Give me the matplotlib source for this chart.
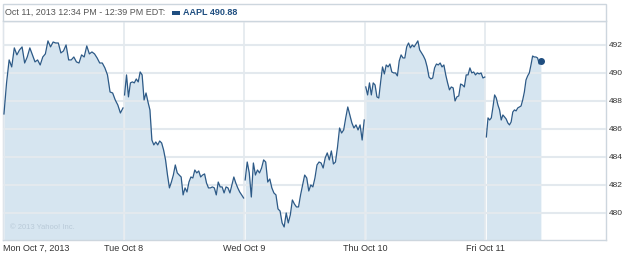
import numpy as np
import matplotlib.pyplot as plt
from matplotlib.patches import Rectangle

plt.rcParams['font.family'] = ['Liberation Sans', 'DejaVu Sans']

# AAPL intraday prices, one list per trading day (5-min-ish samples)
day_labels = ['Mon Oct 7, 2013', 'Tue Oct 8', 'Wed Oct 9', 'Thu Oct 10', 'Fri Oct 11']

mon = [487.07, 489.29, 490.93, 490.43, 491.79, 491.29, 491.64, 491.86, 490.71, 491.14,
       491.79, 491.29, 490.79, 490.93, 490.57, 491.14, 491.36, 492.29, 491.86, 492.21,
       492.14, 492.14, 491.43, 491.57, 492.0, 490.93, 490.93, 491.14, 490.79, 490.71,
       491.29, 491.14, 491.93, 491.36, 491.5, 491.36, 491.07, 490.71, 490.71, 490.36,
       489.86, 488.64, 488.57, 488.07, 487.71, 487.14, 487.5]
tue = [488.43, 489.86, 488.29, 489.29, 489.36, 489.29, 489.57, 489.36, 490.07, 489.86,
       488.07, 488.57, 487.93, 487.36, 485.21, 484.86, 485.07, 484.86, 485.14, 485.0,
       484.5, 483.79, 482.71, 481.79, 482.21, 482.71, 483.43, 482.86, 482.71, 482.57,
       481.29, 481.79, 481.5, 482.21, 482.57, 482.5, 483.07, 482.86, 483.0, 482.57,
       482.71, 482.79, 482.14, 481.79, 481.79, 481.86, 481.79, 481.29, 482.21, 481.86,
       481.86, 481.43, 481.86, 481.79, 481.43, 482.0, 482.57, 482.14, 481.79, 481.5,
       481.29, 481.07]
wed = [482.36, 483.64, 482.86, 481.14, 483.57, 482.71, 483.07, 482.86, 483.21, 483.79,
       483.64, 482.21, 482.43, 481.79, 481.43, 481.29, 480.29, 480.14, 479.29, 479.0,
       480.0, 479.29, 479.86, 480.93, 480.64, 480.43, 480.43, 481.29, 482.0, 482.71,
       482.5, 481.57, 482.0, 481.86, 482.5, 483.43, 483.64, 483.57, 483.21, 483.93,
       484.29, 483.79, 484.43, 483.5, 483.64, 484.71, 486.07, 485.71, 485.93, 486.79,
       487.57, 487.0, 486.43, 486.07, 486.29, 485.93, 486.29, 485.21, 486.64]
thu = [489.0, 488.43, 489.29, 488.43, 489.29, 489.14, 488.29, 488.21, 489.36, 490.43,
       489.93, 490.57, 490.43, 490.64, 490.07, 490.0, 490.0, 489.79, 490.86, 491.29,
       491.07, 491.07, 491.86, 492.14, 491.79, 492.0, 491.86, 492.07, 492.29, 491.64,
       491.43, 491.21, 490.93, 490.43, 489.71, 489.57, 489.64, 490.36, 490.64, 490.57,
       490.71, 490.43, 490.57, 489.86, 489.29, 488.79, 489.0, 488.93, 488.0, 488.29,
       488.36, 489.21, 489.14, 489.0, 489.86, 489.86, 490.36, 490.0, 490.07, 489.86,
       490.0, 489.93, 490.0, 489.64, 489.71]
fri = [485.43, 486.79, 486.64, 486.79, 487.57, 488.43, 488.21, 487.71, 487.36, 486.64,
       487.0, 486.86, 486.71, 486.43, 486.29, 486.5, 487.21, 487.36, 487.29, 487.5,
       487.57, 487.64, 488.07, 488.64, 489.5, 489.79, 490.0, 490.57, 491.21, 491.14,
       491.14, 491.07, 490.64, 490.88]
fri_end = 0.46  # fraction of Friday session shown (up to 12:39 PM)

y_ticks = [480, 482, 484, 486, 488, 490, 492]
y_min, y_max = 478.07, 493.71

header = 'Oct 11, 2013 12:34 PM - 12:39 PM EDT:'
quote = 'AAPL 490.88'

line_c = '#2d5a87'
fill_c = '#d6e5f0'
grid_c = '#e3e9ee'

W, H = 625, 254
fig = plt.figure(figsize=(W / 100, H / 100), dpi=100)
ax = fig.add_axes([3 / W, 14 / H, 603 / W, 219 / H])

days = [mon, tue, wed, thu, fri]
for i, p in enumerate(days):
    end = fri_end if i == 4 else 0.995
    xs = i + np.linspace(0.008, end, len(p))
    ax.fill_between(xs, p, y_min, color=fill_c, lw=0, zorder=1)
    ax.plot(xs, p, color=line_c, lw=0.9, zorder=3)
    if i == 4:
        ax.plot(xs[-1], p[-1], 'o', color='#1f4e80', ms=4, zorder=4)

ax.set_xlim(0, 5)
ax.set_ylim(y_min, y_max)
ax.set_xticks(range(5))
ax.set_xticklabels(day_labels)
ax.get_xticklabels()[0].set_ha('left')
ax.set_yticks(y_ticks)
ax.yaxis.tick_right()
ax.tick_params(axis='both', length=0, labelsize=6.5, colors='#333333')
ax.tick_params(axis='x', pad=3)
ax.tick_params(axis='y', pad=2, labelsize=6)
ax.grid(axis='x', color=grid_c, lw=1.2)
ax.grid(axis='y', color=grid_c, lw=1.5)
ax.set_axisbelow(False)
for s in ax.spines.values():
    s.set_color('#cdd6de')
    s.set_linewidth(1)

ax.text(0.012, 0.055, '\u00a9 2013 Yahoo! Inc.', transform=ax.transAxes,
        fontsize=5.5, color='#b9cad8', va='center')

# header strip
fig.patches.append(Rectangle((3 / W, (H - 21) / H), 603 / W, 17 / H,
                             transform=fig.transFigure, facecolor='white',
                             edgecolor='#cdd6de', lw=1))
t1 = fig.text(5 / W, (H - 12.5) / H, header, fontsize=6.5, color='#555555', va='center')
fig.canvas.draw()
x_end = t1.get_window_extent().x1
fig.patches.append(Rectangle(((x_end + 7) / W, (H - 14.5) / H), 8 / W, 4 / H,
                             transform=fig.transFigure, facecolor='#1f4e80', lw=0))
fig.text((x_end + 18) / W, (H - 12.5) / H, quote, fontsize=6.5, color='#1f4e80',
         fontweight='bold', va='center')

plt.savefig('out.png', dpi=100)
